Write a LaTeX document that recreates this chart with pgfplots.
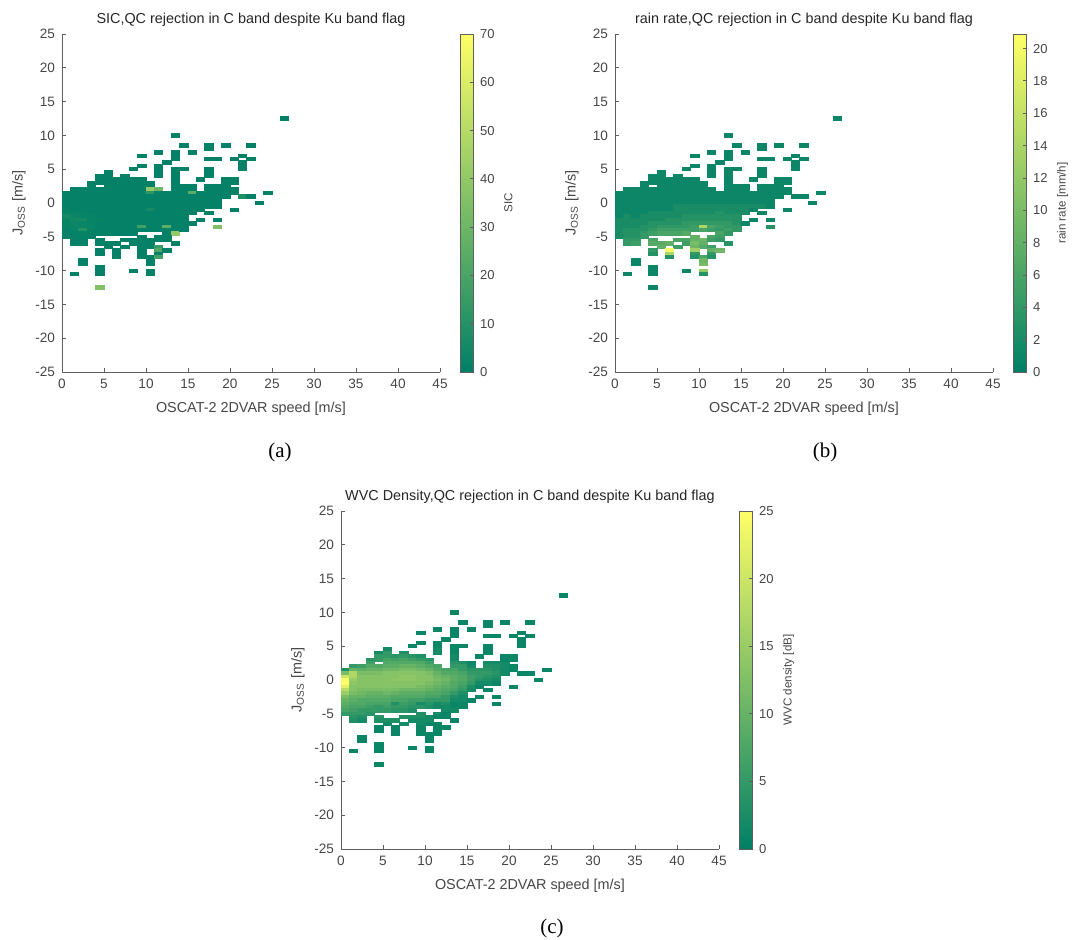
\documentclass[border=0pt]{standalone}
\usepackage{fontspec}
\setmainfont{Liberation Sans}
\newfontfamily\serif{Liberation Serif}
\usepackage{pgfplots}
\usepackage{pgfplotstable}
\pgfplotsset{compat=1.18}
\definecolor{axgray}{RGB}{95,95,95}
\definecolor{txtgray}{RGB}{70,70,70}

% one histogram bin: 1 m/s wide, 0.5 m/s high (axis is 189pt x 169pt for 45 x 50)
\pgfdeclareplotmark{cell}{%
  \pgfpathrectangle{\pgfpoint{-2.1pt}{-0.845pt}}{\pgfpoint{4.2pt}{1.69pt}}%
  \pgfusepathqfillstroke}

% occupied 2D-histogram cells (centre x, centre y) and value in each panel
% a = SIC, b = rain rate, c = WVC density
\pgfplotstableread{
x y a b c
0.5 1.5 1 1 3
0.5 1.0 1 1 12
0.5 0.5 1 1 20
0.5 0.0 1 1 24
0.5 -0.5 1 1 25
0.5 -1.0 2 1 22
0.5 -1.5 2 1 18
0.5 -2.0 6 1 15
0.5 -2.5 3 2 12
0.5 -3.0 2 2 10
0.5 -3.5 2 2 9
0.5 -4.0 1 2 8
0.5 -4.5 1 2 7
0.5 -5.0 1 2 5
1.5 2.0 1 1 5
1.5 1.5 1 1 10
1.5 1.0 1 1 17
1.5 0.5 1 1 17
1.5 0.0 1 1 15
1.5 -0.5 1 1 14
1.5 -1.0 1 1 13
1.5 -1.5 2 1 13
1.5 -2.0 3 2 12
1.5 -2.5 5 2 10
1.5 -3.0 4 2 9
1.5 -3.5 3 2 8
1.5 -4.0 2 3 7
1.5 -4.5 1 3 6
1.5 -5.0 1 3 5
1.5 -5.5 1 4 4
1.5 -6.0 1 4 3
2.5 2.0 1 1 6
2.5 1.5 1 1 9
2.5 1.0 1 1 12
2.5 0.5 1 1 13
2.5 0.0 1 1 13
2.5 -0.5 1 1 13
2.5 -1.0 1 1 13
2.5 -1.5 2 1 12
2.5 -2.0 2 1 11
2.5 -2.5 6 2 10
2.5 -3.0 3 2 8
2.5 -3.5 3 2 8
2.5 -4.0 10 3 7
2.5 -4.5 2 3 5
2.5 -5.0 1 3 5
2.5 -5.5 1 4 3
2.5 -6.0 1 5 2
3.5 3.0 1 1 4
3.5 2.5 1 1 6
3.5 2.0 1 1 8
3.5 1.5 1 1 10
3.5 1.0 1 1 12
3.5 0.5 1 1 13
3.5 0.0 1 1 13
3.5 -0.5 1 1 13
3.5 -1.0 1 1 13
3.5 -1.5 1 1 12
3.5 -2.0 2 2 10
3.5 -2.5 2 2 9
3.5 -3.0 2 2 8
3.5 -3.5 3 3 7
3.5 -4.0 2 3 6
3.5 -4.5 1 4 5
3.5 -5.0 1 4 4
4.5 4.0 1 1 2
4.5 3.5 1 1 5
4.5 3.0 1 1 5
4.5 2.0 1 1 8
4.5 1.5 1 1 10
4.5 1.0 1 1 12
4.5 0.5 1 1 13
4.5 0.0 1 1 13
4.5 -0.5 1 1 13
4.5 -1.0 1 1 13
4.5 -1.5 1 2 12
4.5 -2.0 1 2 10
4.5 -2.5 2 2 9
4.5 -3.0 1 3 8
4.5 -3.5 1 3 7
4.5 -4.0 1 4 5
4.5 -4.5 1 5 5
5.5 4.5 1 1 2
5.5 4.0 1 1 5
5.5 3.5 1 1 5
5.5 3.0 1 1 7
5.5 2.5 1 1 8
5.5 2.0 1 1 9
5.5 1.5 1 1 11
5.5 1.0 1 1 13
5.5 0.5 1 1 13
5.5 0.0 1 1 13
5.5 -0.5 1 1 13
5.5 -1.0 1 1 13
5.5 -1.5 1 2 12
5.5 -2.0 1 2 11
5.5 -2.5 1 2 9
5.5 -3.0 1 3 8
5.5 -3.5 1 4 7
5.5 -4.0 1 5 6
5.5 -4.5 1 6 5
6.5 3.5 1 1 4
6.5 3.0 1 1 6
6.5 2.5 1 1 8
6.5 2.0 1 1 9
6.5 1.5 1 1 11
6.5 1.0 1 1 13
6.5 0.5 1 1 13
6.5 0.0 1 1 14
6.5 -0.5 1 1 13
6.5 -1.0 1 1 13
6.5 -1.5 1 2 12
6.5 -2.0 1 2 10
6.5 -2.5 1 3 8
6.5 -3.0 1 3 7
6.5 -3.5 1 4 3
6.5 -4.0 1 5 5
6.5 -4.5 1 6 4
7.5 4.0 1 1 3
7.5 3.5 1 1 5
7.5 3.0 1 1 7
7.5 2.5 1 1 8
7.5 2.0 1 1 10
7.5 1.5 1 1 12
7.5 1.0 1 1 13
7.5 0.5 1 1 14
7.5 0.0 1 1 14
7.5 -0.5 1 2 13
7.5 -1.0 1 2 13
7.5 -1.5 1 2 11
7.5 -2.0 1 2 9
7.5 -2.5 1 3 8
7.5 -3.0 1 3 7
7.5 -3.5 1 4 6
7.5 -4.0 1 5 5
7.5 -4.5 1 6 4
8.5 3.5 1 1 4
8.5 3.0 1 1 6
8.5 2.5 1 1 8
8.5 2.0 1 1 10
8.5 1.5 1 1 12
8.5 1.0 1 1 13
8.5 0.5 1 1 14
8.5 0.0 1 1 14
8.5 -0.5 1 2 13
8.5 -1.0 1 2 13
8.5 -1.5 1 2 11
8.5 -2.0 1 3 9
8.5 -2.5 1 3 8
8.5 -3.0 1 4 6
8.5 -3.5 1 4 5
8.5 -4.0 1 5 4
8.5 -4.5 1 7 3
9.5 3.5 1 1 3
9.5 3.0 1 1 5
9.5 2.5 1 1 8
9.5 2.0 1 1 9
9.5 1.5 1 1 11
9.5 1.0 1 1 13
9.5 0.5 1 1 13
9.5 0.0 1 1 13
9.5 -0.5 1 2 13
9.5 -1.0 1 2 12
9.5 -1.5 1 2 11
9.5 -2.0 1 3 9
9.5 -2.5 1 3 8
9.5 -3.0 1 4 6
9.5 -3.5 18 5 2
9.5 -4.0 1 5 4
9.5 -5.0 1 8 3
10.5 3.0 1 1 4
10.5 2.5 1 1 6
10.5 2.0 40 1 8
10.5 1.5 12 1 10
10.5 1.0 1 1 12
10.5 0.5 1 1 13
10.5 0.0 1 1 13
10.5 -0.5 1 2 12
10.5 -1.0 6 2 11
10.5 -1.5 1 2 10
10.5 -2.0 1 3 8
10.5 -2.5 1 3 7
10.5 -3.0 1 4 5
10.5 -3.5 1 14 4
10.5 -4.0 1 6 3
11.5 2.0 30 1 7
11.5 1.5 1 1 8
11.5 1.0 1 1 10
11.5 0.5 1 1 11
11.5 0.0 1 1 12
11.5 -0.5 1 2 11
11.5 -1.0 1 2 10
11.5 -1.5 1 2 9
11.5 -2.0 1 3 8
11.5 -2.5 1 3 7
11.5 -3.0 1 4 5
11.5 -3.5 1 6 2
11.5 -4.0 1 5 2
12.5 1.5 1 1 7
12.5 1.0 1 1 8
12.5 0.5 1 1 10
12.5 0.0 1 1 11
12.5 -0.5 1 2 10
12.5 -1.0 1 2 9
12.5 -1.5 1 3 8
12.5 -2.0 1 3 7
12.5 -2.5 1 3 5
12.5 -3.0 1 4 5
12.5 -3.5 25 5 3
12.5 -4.0 1 4 2
12.5 -4.5 1 6 2
13.5 3.0 1 1 2
13.5 2.5 1 1 4
13.5 2.0 1 1 5
13.5 1.5 1 1 7
13.5 1.0 1 1 8
13.5 0.5 1 1 9
13.5 0.0 1 1 9
13.5 -0.5 1 2 8
13.5 -1.0 1 2 8
13.5 -1.5 1 2 7
13.5 -2.0 1 3 5
13.5 -2.5 1 3 3
13.5 -3.0 1 4 2
13.5 -3.5 1 4 1
13.5 -4.0 1 5 1
13.5 -4.5 40 4 2
14.5 2.5 1 1 3
14.5 2.0 1 1 5
14.5 1.5 1 1 5
14.5 1.0 1 1 7
14.5 0.5 1 1 8
14.5 0.0 1 1 8
14.5 -0.5 1 2 7
14.5 -1.0 1 2 6
14.5 -1.5 1 2 5
14.5 -2.0 1 3 3
14.5 -2.5 1 3 2
14.5 -3.0 1 3 2
14.5 -3.5 1 4 1
14.5 -4.0 1 4 1
15.5 2.0 1 1 2
15.5 1.5 25 1 4
15.5 1.0 1 1 5
15.5 0.5 1 1 6
15.5 0.0 1 1 6
15.5 -0.5 1 2 5
15.5 -1.0 1 2 3
15.5 -1.5 1 2 2
16.5 1.5 1 1 4
16.5 1.0 1 1 5
16.5 0.5 1 1 5
16.5 0.0 1 1 4
16.5 -0.5 1 2 2
17.5 2.5 1 1 2
17.5 2.0 1 1 3
17.5 1.5 1 1 4
17.5 1.0 1 1 5
17.5 0.5 1 1 4
17.5 0.0 1 1 3
17.5 -0.5 1 2 2
18.5 2.5 1 1 2
18.5 2.0 1 1 3
18.5 1.5 1 1 3
18.5 1.0 1 1 4
18.5 0.5 1 1 3
18.5 0.0 1 1 2
18.5 -0.5 1 1 1
19.5 2.5 1 1 2
19.5 2.0 1 1 2
19.5 1.5 1 1 2
19.5 1.0 1 1 2
20.5 2.0 1 1 1
20.5 1.5 1 1 1
26.5 12.5 1 1 1
13.5 10.0 1 1 1
14.5 8.5 1 1 1
17.5 8.5 1 1 1
17.5 8.0 1 1 1
19.5 8.5 1 1 1
22.5 8.5 1 1 1
9.5 7.0 1 1 1
11.5 7.5 1 1 1
13.5 7.5 1 1 1
13.5 7.0 1 1 1
13.5 6.5 1 1 1
15.5 7.5 1 1 1
17.5 6.5 1 1 1
18.5 6.5 1 1 1
20.5 6.5 1 1 1
21.5 7.0 1 1 1
22.5 6.5 1 1 1
21.5 6.0 1 1 1
21.5 5.5 1 1 1
21.5 5.0 1 1 1
12.5 6.0 1 1 1
9.5 5.5 1 1 1
8.5 5.0 1 1 1
11.5 5.5 1 1 1
11.5 5.0 1 1 1
11.5 4.5 1 1 2
11.5 4.0 1 1 2
13.5 5.0 1 1 1
14.5 5.0 1 1 1
13.5 4.5 1 1 1
13.5 4.0 1 1 1
13.5 3.5 1 1 2
17.5 5.0 1 1 1
17.5 4.5 1 1 1
17.5 4.0 1 1 1
16.5 3.5 1 1 1
19.5 3.5 1 1 1
20.5 3.5 1 1 1
20.5 3.0 1 1 1
19.5 3.0 1 1 1
15.5 2.5 1 1 1
21.5 1.0 8 1 1
22.5 1.0 1 1 1
24.5 1.5 1 1 1
23.5 0.0 1 1 1
20.5 -1.0 1 1 1
16.5 -1.0 1 1 1
17.5 -1.5 1 1 1
16.5 -2.5 1 1 1
18.5 -2.5 1 1 1
18.5 -3.5 35 3 1
15.5 -3.0 1 1 1
4.5 -5.5 1 6 4
4.5 -6.0 1 7 3
5.5 -6.0 1 7 3
5.5 -6.5 1 8 2
6.5 -6.0 1 8 3
7.5 -5.5 1 6 3
7.5 -6.5 1 5 2
8.5 -5.5 1 6 3
8.5 -6.0 1 5 2
9.5 -5.5 1 8 3
9.5 -6.0 1 10 2
9.5 -6.5 1 9 2
10.5 -5.5 1 9 2
10.5 -6.0 1 8 2
10.5 -6.5 1 7 1
11.5 -5.0 1 6 2
11.5 -5.5 1 5 1
12.5 -5.0 1 5 1
12.5 -5.5 1 4 1
13.5 -6.0 1 3 1
4.5 -7.0 1 4 1
4.5 -7.5 1 3 1
6.5 -7.0 1 20 1
6.5 -7.5 1 14 1
6.5 -8.0 1 3 1
2.5 -8.5 1 1 1
2.5 -9.0 1 1 1
1.5 -10.5 1 1 1
4.5 -9.5 1 1 1
4.5 -10.0 1 1 1
4.5 -10.5 1 1 1
8.5 -10.0 1 1 1
10.5 -10.0 1 12 1
10.5 -10.5 1 3 1
10.5 -9.0 1 10 1
4.5 -12.5 35 1 1
9.5 -7.0 1 13 1
9.5 -7.5 1 4 1
9.5 -8.0 1 3 1
10.5 -8.0 1 6 1
10.5 -8.5 1 9 1
11.5 -6.5 15 5 1
11.5 -7.0 22 8 1
11.5 -7.5 1 4 1
11.5 -8.0 18 3 1
12.5 -7.0 1 9 1
}\cells

\pgfplotsset{
  histpanel/.style={
    scale only axis, width=189pt, height=169pt,
    xmin=0, xmax=45, ymin=-25, ymax=25,
    xtick={0,5,...,45}, ytick={-25,-20,...,25},
    xticklabels={0,5,10,15,20,25,30,35,40,45},
    yticklabels={-25,-20,-15,-10,-5,0,5,10,15,20,25},
    axis x line*=bottom, axis y line*=left,
    axis line style={axgray, line width=0.4pt},
    tick align=inside, major tick length=2pt,
    tick style={axgray, line width=0.4pt},
    ticklabel style={font=\fontsize{6.8}{8}\selectfont, text=txtgray},
    label style={font=\fontsize{7.2}{8.5}\selectfont, text=txtgray},
    title style={font=\fontsize{7.2}{8.5}\selectfont, text=black!85, yshift=-6pt},
    xlabel={OSCAT-2 2DVAR speed [m/s]},
    ylabel={J\textsubscript{OSS} [m/s]},
    ylabel style={yshift=-2pt},
    colormap={summer}{rgb=(0,0.5,0.4) rgb=(1,1,0.4)},
    colorbar,
  },
  cbar/.style={
    width=6.5pt, at={(parent axis.north east)}, anchor=north west, xshift=1.5pt,
    axis line style={axgray, line width=0.4pt},
    tick align=inside, major tick length=1.5pt,
    tick style={axgray, line width=0.4pt},
    ytick pos=right,
    /pgf/number format/assume math mode=true,
    ticklabel style={font=\fontsize{6.5}{8}\selectfont, text=txtgray},
    ylabel style={font=\fontsize{5.8}{7}\selectfont, text=txtgray, yshift=2pt},
  },
  cells/.style={scatter, only marks, mark=cell,
    scatter/use mapped color={draw=mapped color, fill=mapped color},
    every mark/.append style={line width=0.1pt}},
}

\begin{document}
\begin{tikzpicture}
\useasboundingbox (0pt,0pt) rectangle (536pt,-470pt);

\begin{axis}[histpanel, at={(31pt,-186pt)}, anchor=south west,
  title={SIC,QC rejection in C band despite Ku band flag},
  point meta min=0, point meta max=70,
  colorbar style={cbar, ytick={0,10,...,70}, ylabel={SIC}}]
\addplot[cells, point meta=\thisrow{a}] table[x=x, y=y] {\cells};
\end{axis}

\begin{axis}[histpanel, at={(307.5pt,-186pt)}, anchor=south west,
  title={rain rate,QC rejection in C band despite Ku band flag},
  point meta min=0, point meta max=20.9,
  colorbar style={cbar, ytick={0,2,...,20}, ylabel={rain rate [mm/h]}}]
\addplot[cells, point meta=\thisrow{b}] table[x=x, y=y] {\cells};
\end{axis}

\begin{axis}[histpanel, at={(170.5pt,-424.5pt)}, anchor=south west,
  title={WVC Density,QC rejection in C band despite Ku band flag},
  point meta min=0, point meta max=25,
  colorbar style={cbar, ytick={0,5,...,25}, ylabel={WVC density [dB]}}]
\addplot[cells, point meta=\thisrow{c}] table[x=x, y=y] {\cells};
\end{axis}

\node[font=\serif\fontsize{10.5}{12}\selectfont] at (140pt,-226pt) {(a)};
\node[font=\serif\fontsize{10.5}{12}\selectfont] at (412.5pt,-226pt) {(b)};
\node[font=\serif\fontsize{10.5}{12}\selectfont] at (276pt,-464pt) {(c)};
\end{tikzpicture}
\end{document}
